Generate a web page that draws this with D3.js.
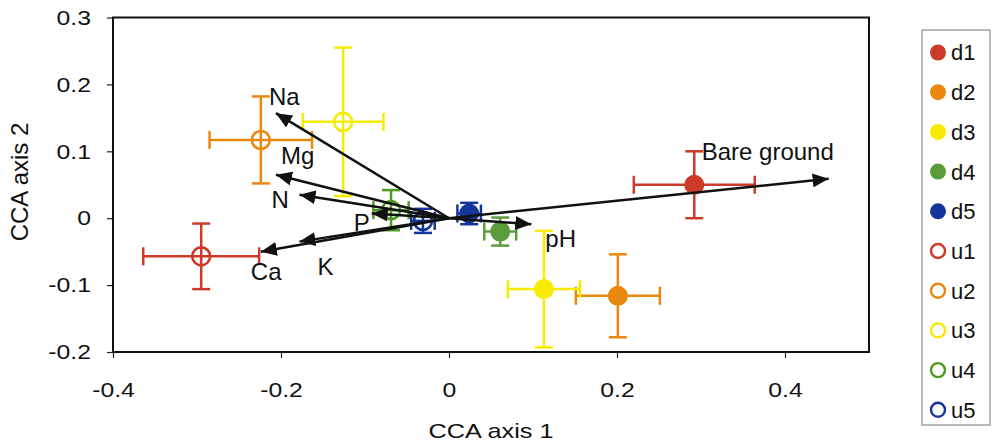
<!DOCTYPE html>
<html>
<head>
<meta charset="utf-8">
<script src="https://cdn.jsdelivr.net/npm/d3@7"></script>
<style>
  html, body { margin: 0; padding: 0; background: #fff; }
  svg { display: block; font-family: Arial, "Liberation Sans", Helvetica, sans-serif; }
</style>
</head>
<body>
<svg id="chart" width="992" height="448"></svg>
<script>
// ---- Data ----
const sites  = ["d1", "d2", "d3", "d4", "d5", "u1", "u2", "u3", "u4", "u5"];
const axis1  = [0.292, 0.201, 0.113, 0.061, 0.024, -0.295, -0.224, -0.126, -0.069, -0.031];
const axis2  = [0.050, -0.116, -0.106, -0.020, 0.007, -0.057, 0.117, 0.144, 0.012, -0.004];
const err1   = [0.072, 0.050, 0.043, 0.019, 0.014, 0.069, 0.061, 0.048, 0.021, 0.014];
const err2   = [0.050, 0.062, 0.087, 0.021, 0.016, 0.049, 0.065, 0.111, 0.030, 0.018];

const variables = ["Bare ground", "pH", "Na", "Mg", "N", "P", "K", "Ca"];
const varX      = [0.452, 0.098, -0.206, -0.206, -0.178, -0.092, -0.178, -0.224];
const varY      = [0.059, -0.009, 0.157, 0.065, 0.035, 0.007, -0.035, -0.050];

const xTicks = [-0.4, -0.2, 0, 0.2, 0.4];
const yTicks = [-0.2, -0.1, 0, 0.1, 0.2, 0.3];
const xTitle = "CCA axis 1";
const yTitle = "CCA axis 2";

// ---- Styling / layout (not data) ----
const siteColors = ["#cc3a2a", "#e8880f", "#f7ec00", "#5a9c3c", "#14369a",
                    "#cc3a2a", "#e8880f", "#f7ec00", "#4e9a24", "#14369a"];
const siteFilled = [true, true, true, true, true, false, false, false, false, false];
// label offsets in pixels from arrow tip: [dx, dy]
const labelOffset = [[-127, -19], [14, 23], [-7, -8], [5, -11], [-28, 13], [-18, 17], [18, 33], [-10, 28]];

const L = 113, R = 869, T = 17.5, B = 352;
const svg = d3.select("#chart");

const x = d3.scaleLinear().domain([-0.4, 0.5]).range([L, R]);
const y = d3.scaleLinear().domain([-0.2, 0.3]).range([B, T]);

// axes
const xAxis = d3.axisBottom(x).tickValues(xTicks).tickFormat(d => String(d))
  .tickSizeOuter(0).tickSizeInner(6).tickPadding(24);
const yAxis = d3.axisLeft(y).tickValues(yTicks).tickFormat(d => String(d))
  .tickSizeOuter(0).tickSizeInner(6).tickPadding(16);

const gx = svg.append("g").attr("transform", `translate(0,${B})`).call(xAxis);
const gy = svg.append("g").attr("transform", `translate(${L},0)`).call(yAxis);
[gx, gy].forEach(g => {
  g.select(".domain").remove();
  g.selectAll(".tick line").attr("stroke", "#222").attr("stroke-width", 1.2);
  g.selectAll(".tick text").attr("fill", "#111").style("font-size", "21px")
    .each(function() {
      const w = this.getComputedTextLength();
      d3.select(this).attr("textLength", w * 1.18).attr("lengthAdjust", "spacingAndGlyphs");
    });
});

// plot frame
svg.append("rect").attr("x", L).attr("y", T).attr("width", R - L).attr("height", B - T)
  .attr("fill", "none").attr("stroke", "#111").attr("stroke-width", 2);

// axis titles
svg.append("text").attr("x", 491).attr("y", 438).attr("text-anchor", "middle")
  .style("font-size", "21px").attr("fill", "#111")
  .attr("textLength", 125).attr("lengthAdjust", "spacingAndGlyphs").text(xTitle);
svg.append("text").attr("transform", "translate(28,182) rotate(-90)").attr("text-anchor", "middle")
  .style("font-size", "24px").attr("fill", "#111").text(yTitle);

// error bars & markers
const pts = sites.map((s, i) => ({ s, i, x: axis1[i], y: axis2[i], ex: err1[i], ey: err2[i] }));
const cap = 9;
const gp = svg.append("g");
pts.forEach(p => {
  const c = siteColors[p.i];
  const g = gp.append("g").attr("stroke", c).attr("stroke-width", 2.5).attr("fill", "none");
  const cx = x(p.x), cy = y(p.y);
  const x0 = x(p.x - p.ex), x1 = x(p.x + p.ex), y0 = y(p.y - p.ey), y1 = y(p.y + p.ey);
  g.append("line").attr("x1", x0).attr("x2", x1).attr("y1", cy).attr("y2", cy);
  g.append("line").attr("x1", cx).attr("x2", cx).attr("y1", y0).attr("y2", y1);
  g.append("line").attr("x1", x0).attr("x2", x0).attr("y1", cy - cap).attr("y2", cy + cap);
  g.append("line").attr("x1", x1).attr("x2", x1).attr("y1", cy - cap).attr("y2", cy + cap);
  g.append("line").attr("x1", cx - cap).attr("x2", cx + cap).attr("y1", y0).attr("y2", y0);
  g.append("line").attr("x1", cx - cap).attr("x2", cx + cap).attr("y1", y1).attr("y2", y1);
  if (siteFilled[p.i]) {
    g.append("circle").attr("cx", cx).attr("cy", cy).attr("r", 10).attr("fill", c).attr("stroke", "none");
  } else {
    g.append("circle").attr("cx", cx).attr("cy", cy).attr("r", 9).attr("fill", "none").attr("stroke-width", 2.6);
  }
});

// arrows
const defs = svg.append("defs");
defs.append("marker").attr("id", "ah").attr("viewBox", "0 0 16 14")
  .attr("refX", 16).attr("refY", 7).attr("markerWidth", 16).attr("markerHeight", 14)
  .attr("markerUnits", "userSpaceOnUse").attr("orient", "auto")
  .append("path").attr("d", "M0,0 L16,7 L0,14 Z").attr("fill", "#111");

const ga = svg.append("g");
variables.forEach((v, i) => {
  const tx = x(varX[i]), ty = y(varY[i]);
  ga.append("line").attr("x1", x(0)).attr("y1", y(0)).attr("x2", tx).attr("y2", ty)
    .attr("stroke", "#111").attr("stroke-width", 2.5).attr("marker-end", "url(#ah)");
  ga.append("text").attr("x", tx + labelOffset[i][0]).attr("y", ty + labelOffset[i][1])
    .style("font-size", "24px").attr("fill", "#111").text(v);
});

// legend
svg.append("rect").attr("x", 922).attr("y", 30).attr("width", 68).attr("height", 395)
  .attr("fill", "#fff").attr("stroke", "#777").attr("stroke-width", 1);
const lg = svg.append("g");
sites.forEach((s, i) => {
  const cy = 52.5 + i * 39.7;
  const c = siteColors[i];
  if (siteFilled[i]) {
    lg.append("circle").attr("cx", 938).attr("cy", cy).attr("r", 8).attr("fill", c);
  } else {
    lg.append("circle").attr("cx", 938).attr("cy", cy).attr("r", 7).attr("fill", "none")
      .attr("stroke", c).attr("stroke-width", 2.4);
  }
  lg.append("text").attr("x", 951).attr("y", cy).attr("dy", "0.36em")
    .style("font-size", "22px").attr("fill", "#111").text(s);
});
</script>
</body>
</html>
